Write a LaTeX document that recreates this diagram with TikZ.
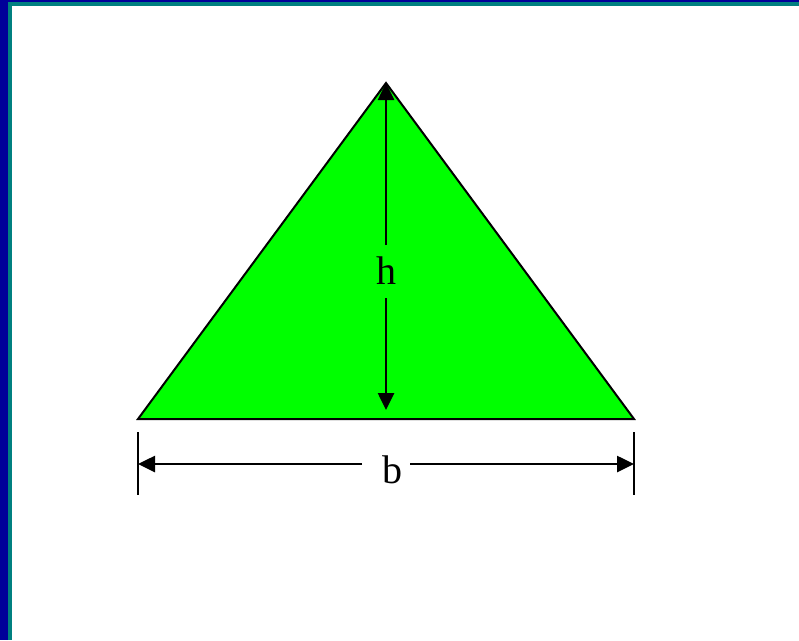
\documentclass[tikz,border=0pt]{standalone}
\usepackage{fontspec}
\setmainfont{Liberation Serif}
\usetikzlibrary{arrows.meta}
\definecolor{frameblue}{RGB}{0,0,153}
\definecolor{frameteal}{RGB}{0,128,128}
\definecolor{trigreen}{RGB}{0,255,0}
\tikzset{
  dimarrow/.style={line width=2.6pt,-{Triangle[length=17pt,width=16pt]}},
  dimtick/.style={line width=2.6pt},
  dimlabel/.style={font=\fontsize{40}{44}\selectfont,inner sep=0pt}
}
\begin{document}
\begin{tikzpicture}[x=1pt,y=-1pt]
\useasboundingbox (0,0) rectangle (799,640);
\fill[white] (0,0) rectangle (799,640);
% frame
\fill[frameblue] (0,0) rectangle (799,2);
\fill[frameteal] (8,2) rectangle (799,6);
\fill[frameblue] (0,0) rectangle (8,640);
\fill[frameteal] (8,2) rectangle (12,640);
% triangle
\coordinate (A) at (386,83);
\coordinate (B) at (138,419);
\coordinate (C) at (634,419);
\filldraw[fill=trigreen,draw=black,line width=2pt,line join=miter] (A) -- (B) -- (C) -- cycle;
% height
\node[dimlabel] (h) at (386,271) {h};
\coordinate (hbot) at (386,410);
\coordinate (hgtop) at (386,245);
\coordinate (hgbot) at (386,298);
\draw[dimarrow] (hgtop) -- (A);
\draw[dimarrow] (hgbot) -- (hbot);
% base
\coordinate (t1a) at (138,432);
\coordinate (t1b) at (138,495);
\coordinate (t2a) at (634,432);
\coordinate (t2b) at (634,495);
\draw[dimtick] (t1a) -- (t1b);
\draw[dimtick] (t2a) -- (t2b);
\node[dimlabel] (b) at (392,470) {b};
\coordinate (bl) at (138,464);
\coordinate (br) at (634,464);
\coordinate (bgl) at (362,464);
\coordinate (bgr) at (410,464);
\draw[dimarrow] (bgl) -- (bl);
\draw[dimarrow] (bgr) -- (br);
\end{tikzpicture}
\end{document}
